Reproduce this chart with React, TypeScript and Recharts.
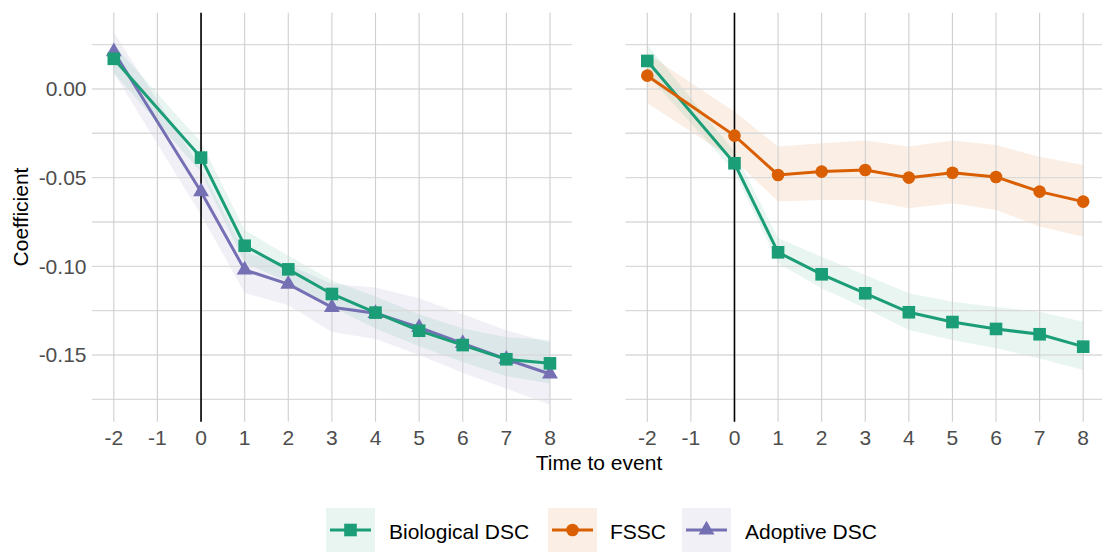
import React from 'react';
import {
  ComposedChart,
  Line,
  Area,
  XAxis,
  YAxis,
  ReferenceLine,
} from 'recharts';

// Event time (-1 is the omitted reference period)
const times = [-2, 0, 1, 2, 3, 4, 5, 6, 7, 8];
const xTicks = [-2, -1, 0, 1, 2, 3, 4, 5, 6, 7, 8];
const yTicks = [0.025, 0, -0.025, -0.05, -0.075, -0.1, -0.125, -0.15, -0.175];
const yLabelTicks = [0, -0.05, -0.1, -0.15];

// Left panel: biological vs adoptive
const bioLeft = [0.017, -0.0387, -0.0884, -0.1017, -0.1156, -0.1261, -0.1363, -0.1444, -0.1524, -0.1547];
const bioLeftLo = [0.009, -0.047, -0.098, -0.109, -0.123, -0.135, -0.145, -0.154, -0.162, -0.166];
const bioLeftHi = [0.025, -0.03, -0.0795, -0.094, -0.108, -0.117, -0.127, -0.135, -0.14, -0.1415];
const adoptive = [0.021, -0.0579, -0.102, -0.110, -0.1231, -0.1265, -0.1344, -0.1434, -0.1524, -0.1607];
const adoptiveLo = [0.009, -0.071, -0.115, -0.122, -0.137, -0.141, -0.15, -0.16, -0.169, -0.178];
const adoptiveHi = [0.032, -0.045, -0.092, -0.099, -0.11, -0.112, -0.118, -0.127, -0.136, -0.143];

// Right panel: biological vs FSSC
const bioRight = [0.0158, -0.0419, -0.0921, -0.1045, -0.1152, -0.1259, -0.1314, -0.1353, -0.1383, -0.1453];
const bioRightLo = [0.008, -0.0466, -0.0983, -0.1124, -0.1236, -0.1359, -0.1415, -0.1462, -0.1519, -0.1585];
const bioRightHi = [0.025, -0.0354, -0.0842, -0.0946, -0.1049, -0.1152, -0.12, -0.1229, -0.1256, -0.1312];
const fssc = [0.0075, -0.0263, -0.0485, -0.0466, -0.0457, -0.05, -0.0472, -0.0496, -0.0579, -0.0635];
const fsscLo = [-0.008, -0.04, -0.0635, -0.0626, -0.0626, -0.0673, -0.0645, -0.0682, -0.0776, -0.0833];
const fsscHi = [0.02, -0.0128, -0.0325, -0.0306, -0.0291, -0.0325, -0.0291, -0.0316, -0.0382, -0.0429];

const GREEN = '#1b9e77';
const ORANGE = '#d95f02';
const PURPLE = '#7570b3';
const FONT = '"Liberation Sans", Arial, sans-serif';

const leftRows = times.map((t, i) => ({
  t,
  bio: bioLeft[i],
  bioBand: [bioLeftLo[i], bioLeftHi[i]],
  adoptive: adoptive[i],
  adoptiveBand: [adoptiveLo[i], adoptiveHi[i]],
}));

const rightRows = times.map((t, i) => ({
  t,
  bio: bioRight[i],
  bioBand: [bioRightLo[i], bioRightHi[i]],
  fssc: fssc[i],
  fsscBand: [fsscLo[i], fsscHi[i]],
}));

// marker shapes
const squareDot = (color: string) => (p: any) => (
  <rect key={`sq-${p.index}`} x={p.cx - 6.3} y={p.cy - 6.3} width={12.6} height={12.6} fill={color} />
);

const circleDot = (color: string) => (p: any) => (
  <circle key={`ci-${p.index}`} cx={p.cx} cy={p.cy} r={6.3} fill={color} />
);

const triPoints = (cx: number, cy: number, s = 5.9) => {
  const r = 1.5551 * s;
  const xc = 1.3468 * s;
  const yc = 0.7776 * s;
  return `${cx},${cy - r} ${cx + xc},${cy + yc} ${cx - xc},${cy + yc}`;
};

const triangleDot = (color: string) => (p: any) => (
  <polygon key={`tr-${p.index}`} points={triPoints(p.cx, p.cy)} fill={color} />
);

const tickStyle = { fill: '#4d4d4d', fontSize: 21, fontFamily: FONT };
const fmtY = (v: number) => (yLabelTicks.some(m => Math.abs(m - v) < 1e-9) ? v.toFixed(2) : '');

function Panel({ rows, series, left, width, yWidth, showY, marginRight }: any) {
  return (
    <div style={{ position: 'absolute', left, top: 0 }}>
      <ComposedChart
        width={width}
        height={553}
        data={rows}
        margin={{ top: 12.7, right: marginRight, bottom: 101.3, left: 0 }}
      >
        <XAxis
          dataKey="t"
          type="number"
          domain={[-2.5, 8.5]}
          ticks={xTicks}
          allowDataOverflow
          axisLine={false}
          tickLine={false}
          tickSize={0}
          tickMargin={8}
          height={30}
          interval={0}
          tick={tickStyle}
        />
        <YAxis
          type="number"
          domain={[-0.1876, 0.043]}
          ticks={yTicks}
          allowDataOverflow
          axisLine={false}
          tickLine={false}
          tickSize={0}
          tickMargin={5.5}
          width={yWidth}
          interval={0}
          tick={tickStyle}
          tickFormatter={showY ? fmtY : () => ''}
        />
        {/* panel grid */}
        {yTicks.map(v => (
          <ReferenceLine key={`gy-${v}`} y={v} stroke="#dadada" strokeWidth={1.4} />
        ))}
        {xTicks.map(v => (
          <ReferenceLine key={`gx-${v}`} x={v} stroke="#cfcfcf" strokeWidth={1.1} />
        ))}
        {series.map((s: any) => (
          <Area
            key={`band-${s.key}`}
            type="linear"
            dataKey={`${s.key}Band`}
            stroke="none"
            fill={s.color}
            fillOpacity={0.1}
            isAnimationActive={false}
            activeDot={false}
          />
        ))}
        <ReferenceLine x={0} stroke="#000000" strokeWidth={1.6} />
        {series.map((s: any) => (
          <Line
            key={`line-${s.key}`}
            type="linear"
            dataKey={s.key}
            stroke={s.color}
            strokeWidth={3}
            dot={s.dot(s.color)}
            activeDot={false}
            isAnimationActive={false}
          />
        ))}
      </ComposedChart>
    </div>
  );
}

const legendItems = [
  { label: 'Biological DSC', color: GREEN, shape: 'square', keyX: 326, textX: 389 },
  { label: 'FSSC', color: ORANGE, shape: 'circle', keyX: 548, textX: 610 },
  { label: 'Adoptive DSC', color: PURPLE, shape: 'triangle', keyX: 682, textX: 745 },
];

function LegendKey({ color, shape }: { color: string; shape: string }) {
  const cx = 24.5;
  const cy = 22;
  return (
    <svg width={49} height={44} style={{ display: 'block' }}>
      <rect x={0} y={0} width={49} height={44} fill={color} fillOpacity={0.1} />
      <line x1={4} y1={cy} x2={45} y2={cy} stroke={color} strokeWidth={3} />
      {shape === 'square' && <rect x={cx - 6.3} y={cy - 6.3} width={12.6} height={12.6} fill={color} />}
      {shape === 'circle' && <circle cx={cx} cy={cy} r={6.3} fill={color} />}
      {shape === 'triangle' && <polygon points={triPoints(cx, cy)} fill={color} />}
    </svg>
  );
}

export default function App() {
  return (
    <div
      style={{
        position: 'absolute',
        left: 0,
        top: 0,
        width: 1102,
        height: 553,
        overflow: 'hidden',
        background: '#ffffff',
        fontFamily: FONT,
      }}
    >
      <Panel
        rows={leftRows}
        left={0}
        width={580}
        yWidth={92}
        showY={true}
        marginRight={8.2}
        series={[
          { key: 'adoptive', color: PURPLE, dot: triangleDot },
          { key: 'bio', color: GREEN, dot: squareDot },
        ]}
      />
      <Panel
        rows={rightRows}
        left={580}
        width={530}
        yWidth={45.5}
        showY={false}
        marginRight={5}
        series={[
          { key: 'bio', color: GREEN, dot: squareDot },
          { key: 'fssc', color: ORANGE, dot: circleDot },
        ]}
      />

      {/* axis titles */}
      <div
        style={{
          position: 'absolute',
          left: 21,
          top: 217,
          transform: 'translate(-50%, -50%) rotate(-90deg)',
          fontSize: 21,
          color: '#000',
          whiteSpace: 'nowrap',
        }}
      >
        Coefficient
      </div>
      <div
        style={{
          position: 'absolute',
          left: 599,
          top: 463,
          transform: 'translate(-50%, -50%)',
          fontSize: 21,
          color: '#000',
          whiteSpace: 'nowrap',
        }}
      >
        Time to event
      </div>

      {/* legend */}
      {legendItems.map(item => (
        <React.Fragment key={item.label}>
          <div style={{ position: 'absolute', left: item.keyX, top: 508 }}>
            <LegendKey color={item.color} shape={item.shape} />
          </div>
          <div
            style={{
              position: 'absolute',
              left: item.textX,
              top: 532,
              transform: 'translateY(-50%)',
              fontSize: 21,
              color: '#000',
              whiteSpace: 'nowrap',
            }}
          >
            {item.label}
          </div>
        </React.Fragment>
      ))}
    </div>
  );
}
